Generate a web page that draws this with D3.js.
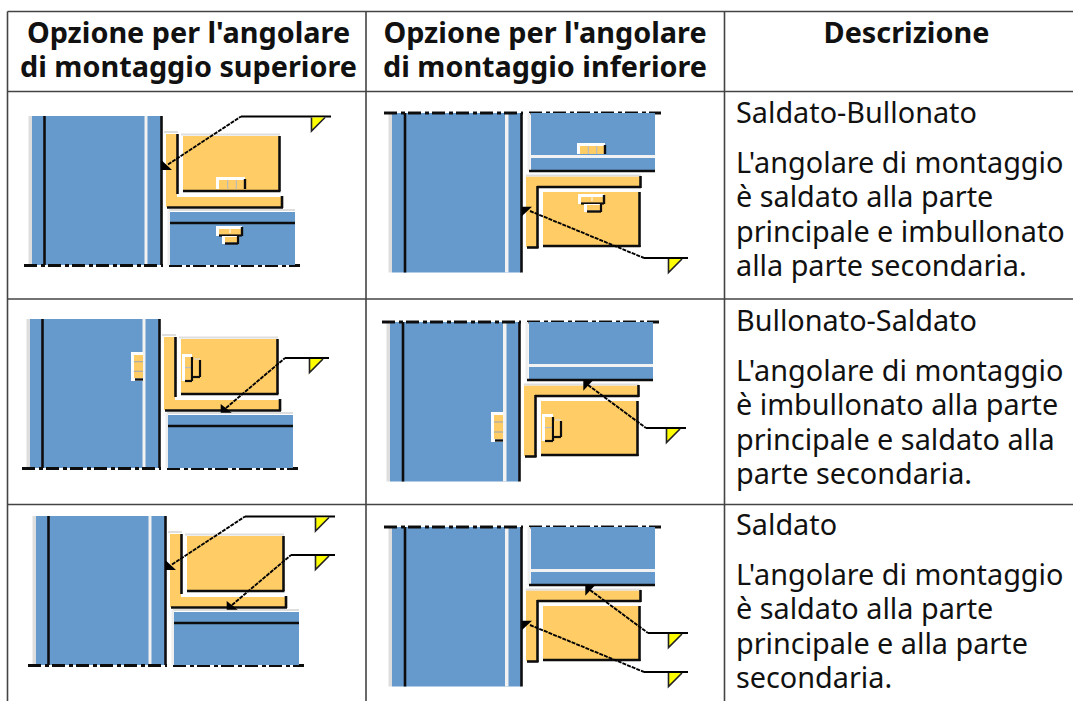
<!DOCTYPE html>
<html>
<head>
<meta charset="utf-8">
<script src="https://cdn.jsdelivr.net/npm/d3@7/dist/d3.min.js"></script>
<style>
  html, body { margin: 0; background: #fff; overflow: hidden; }
  text { font-family: "Noto Sans", sans-serif; fill: #111; }
</style>
</head>
<body>
<div id="app"></div>
<script>
const HEADERS = [
  ["Opzione per l'angolare", "di montaggio superiore"],
  ["Opzione per l'angolare", "di montaggio inferiore"],
  ["Descrizione"],
];
const TITLES = ["Saldato-Bullonato", "Bullonato-Saldato", "Saldato"];
const DESCRIPTIONS = [
  ["L'angolare di montaggio", "è saldato alla parte", "principale e imbullonato", "alla parte secondaria."],
  ["L'angolare di montaggio", "è imbullonato alla parte", "principale e saldato alla", "parte secondaria."],
  ["L'angolare di montaggio", "è saldato alla parte", "principale e alla parte", "secondaria."],
];
// which bolt groups and weld marks each row shows
const BEAM_BOLTS = [true, false, false];
const SIDE_BOLTS = [false, true, false];
const WELD_MAIN = [true, false, true];
const WELD_BEAM = [false, true, true];

const width = 1073;
const height = 701;
const BLUE = "#6699cc";
const ORANGE = "#ffcc66";
const YELLOW = "#ffff00";
const EDGE = "#dedede";
const INK = "#111";
const RULE = "#444";
const FONT_SIZE = "28.8px";

const COL_X = [7.5, 366, 724.5];
const ROW_Y = [11.5, 91.5, 299, 504.5];
const HEADER_CX = [188.5, 545, 906.5];
const HEADER_BASE = [43, 77];
const TEXT_X = 736;
const TITLE_BASE = [123, 331, 535];
const DESC_BASE = [173, 381, 585];
const LINE_H = 34.3;
const UPPER_OFFSET = [[0, 0], [-2, 203], [4, 400]];
const LOWER_OFFSET = [[0, 0], [-2, 209], [0, 414]];

const svg = d3.select("#app").append("svg").attr("width", width).attr("height", height);

const soft = svg.append("defs").append("filter").attr("id", "soft");
soft.append("feGaussianBlur").attr("stdDeviation", 0.4);

// table rules
const rules = svg.append("g").attr("stroke", RULE).attr("stroke-width", 1.6);
rules.selectAll("line.h").data(ROW_Y).join("line").attr("class", "h")
  .attr("x1", COL_X[0]).attr("x2", width).attr("y1", (d) => d).attr("y2", (d) => d);
rules.selectAll("line.v").data(COL_X).join("line").attr("class", "v")
  .attr("x1", (d) => d).attr("x2", (d) => d).attr("y1", ROW_Y[0]).attr("y2", height);

// header text
HEADERS.forEach((lines, i) => {
  svg.append("g").selectAll("text").data(lines).join("text")
    .attr("x", HEADER_CX[i])
    .attr("y", (d, j) => HEADER_BASE[j])
    .attr("text-anchor", "middle")
    .style("font-size", FONT_SIZE)
    .style("font-weight", "700")
    .text((d) => d);
});

// description column
TITLES.forEach((title, i) => {
  svg.append("text").attr("x", TEXT_X).attr("y", TITLE_BASE[i])
    .style("font-size", FONT_SIZE).text(title);
  svg.append("g").selectAll("text").data(DESCRIPTIONS[i]).join("text")
    .attr("x", TEXT_X)
    .attr("y", (d, j) => DESC_BASE[i] + j * LINE_H)
    .style("font-size", FONT_SIZE)
    .text((d) => d);
});

const pen = (offset) => {
  const g = svg.append("g").attr("filter", "url(#soft)");
  const x = d3.scaleLinear().domain([0, 1]).range([offset[0], offset[0] + 1]);
  const y = d3.scaleLinear().domain([0, 1]).range([offset[1], offset[1] + 1]);
  const path = d3.line().x((p) => x(p[0])).y((p) => y(p[1]));
  return {
    box(x0, y0, x1, y1, fill) {
      g.append("rect").attr("x", x(x0)).attr("y", y(y0))
        .attr("width", x1 - x0).attr("height", y1 - y0).attr("fill", fill);
    },
    poly(pts, fill) {
      g.append("path").attr("d", path(pts) + "Z").attr("fill", fill);
    },
    stroke(pts, w = 2.6, color = INK, dash = null) {
      g.append("path").attr("d", path(pts)).attr("fill", "none")
        .attr("stroke", color).attr("stroke-width", w).attr("stroke-dasharray", dash);
    },
  };
};

const CENTER_DASH = "13 4 4 3";
const LEADER_DASH = "4 1";

function leader(p, arrow, pts) {
  p.poly(arrow, "#000");
  p.stroke(pts.slice(0, 2), 1.9, "#000", LEADER_DASH);
  p.stroke(pts.slice(1), 2.2, "#000");
  const end = pts[2];
  const tx = end[0] - 19.5;
  const ty = end[1] + 1;
  p.poly([[tx, ty], [tx + 13.5, ty], [tx, ty + 13]], YELLOW);
  p.stroke([[tx, ty], [tx, ty + 13.5], [tx + 13.5, ty]], 1.6, "#222");
}

function teeBolt(p, x0, y0, x1, y1, x2, x3, y3) {
  // flat bolt head with nut under it
  p.box(x0, y0, x1, y1, "#fff");
  p.box(x0 + 3, y0 + 3, x1 - 1, y1 - 1, ORANGE);
  p.stroke([[(x0 + x1) / 2 + 1, y0 + 3], [(x0 + x1) / 2 + 1, y1 - 3]], 1, "#fff");
  p.stroke([[x1, y0 + 1], [x1, y1]], 2.4);
  p.stroke([[x0 + 3, y1 - 0.5], [x1, y1 - 0.5]], 2.2);
  p.box(x2 - 2, y1, x3, y3, "#fff");
  p.box(x2 + 1, y1 + 1, x3 - 1, y3 - 1.5, ORANGE);
  p.stroke([[x3, y1], [x3, y3]], 2.2);
  p.stroke([[x2 + 1, y3 - 0.5], [x3, y3 - 0.5]], 2.4);
}

function topBolt(p, x0, y0, x1, y1) {
  // three-part bolt seen from the side, sitting on the plate edge
  p.box(x0, y0, x1, y1, "#fff");
  p.box(x0 + 3, y0 + 3, x1, y1, ORANGE);
  [1 / 3, 2 / 3].forEach((t) => {
    const tx = x0 + 3 + (x1 - x0 - 3) * t;
    p.stroke([[tx, y0 + 3], [tx, y1]], 1.2, "#bbb");
  });
  p.stroke([[x1, y0 + 2], [x1, y1]], 2.4);
}

function sideBolt(p, x0, y0, x1, y1) {
  // upright bolt through the column flange
  p.box(x0, y0, x1, y1, "#fff");
  p.box(x0 + 3, y0 + 3, x1, y1 - 3, ORANGE);
  [1 / 3, 2 / 3].forEach((t) => {
    const ty = y0 + (y1 - y0) * t;
    p.stroke([[x0 + 3, ty], [x1, ty]], 1.2, "#aaa");
  });
  p.stroke([[x0 + 4, y1 - 1.5], [x1, y1 - 1.5]], 2.4);
}

function angleBolt(p, x0, y0, x1, y1, x2, y2, y3) {
  // bolt on the angle's outstanding leg
  p.box(x0, y0, x1, y1, "#fff");
  p.box(x0 + 3, y0 + 3, x1, y1, ORANGE);
  p.stroke([[x0 + 3, (y0 + y1) / 2], [x1, (y0 + y1) / 2]], 1.2, "#bbb");
  p.stroke([[x1, y0 + 3], [x1, y1]], 2.2);
  p.stroke([[x0 + 3, y1], [x1, y1]], 2.2);
  p.box(x1 + 1, y2, x2, y3, ORANGE);
  p.stroke([[x1 + 2, y2 - 1], [x2, y2 - 1]], 1.2, "#ddd");
  p.stroke([[x2, y2], [x2, y3]], 2.2);
  p.stroke([[x1, y3], [x2, y3]], 2.2);
}

function upper(i) {
  const p = pen(UPPER_OFFSET[i]);
  // main column
  p.box(28.5, 116, 32, 265, EDGE);
  p.box(32, 116, 161, 265, BLUE);
  p.box(144.5, 116, 147.5, 265, "#f2f2f2");
  p.stroke([[44.5, 116], [44.5, 265]]);
  p.stroke([[161.5, 116], [161.5, 265]]);
  p.stroke([[24, 265.5], [163, 265.5]], 2.8, INK, CENTER_DASH);
  p.stroke([[169, 265.5], [300, 265.5]], 2.8, INK, CENTER_DASH);
  // angle
  p.box(164, 131, 178, 133, EDGE);
  p.poly([[166, 134], [177, 134], [177, 197], [282, 197], [282, 207], [166, 207]], ORANGE);
  p.stroke([[177.5, 134], [177.5, 194]]);
  p.stroke([[167, 207.5], [283, 207.5]]);
  p.stroke([[282, 196], [282, 208]]);
  // secondary web
  p.box(181, 133.5, 280, 135.5, EDGE);
  p.box(183, 136, 279, 190, ORANGE);
  p.stroke([[279.5, 136], [279.5, 191]]);
  p.stroke([[183, 191], [280.5, 191]]);
  // beam
  p.box(169, 209, 295, 211, EDGE);
  p.box(167.5, 210, 170, 265, "#eee");
  p.box(170, 212, 295, 265, BLUE);
  p.stroke([[170, 223], [295, 223]]);
  if (BEAM_BOLTS[i]) {
    topBolt(p, 216, 177, 245, 189);
    teeBolt(p, 216, 226, 242, 236, 224, 238, 244);
  }
  if (SIDE_BOLTS[i]) {
    sideBolt(p, 133, 149, 145, 178);
    angleBolt(p, 184, 151, 194, 178, 202, 157, 174);
  }
  if (WELD_MAIN[i]) {
    leader(p, [[161.3, 160], [172, 170], [161.3, 170]], [[168, 164.5], [241, 116.5], [331, 116.5]]);
  }
  if (WELD_BEAM[i]) {
    leader(p, [[222.7, 201], [233.7, 209.7], [222.7, 209.7]], [[228, 205], [287, 155], [331, 155]]);
  }
}

function lower(i) {
  const p = pen(LOWER_OFFSET[i]);
  // main column
  p.box(388.5, 113, 392, 272.5, EDGE);
  p.box(392, 113, 521, 272.5, BLUE);
  p.box(505, 113, 508.5, 272.5, "#f2f2f2");
  p.stroke([[405, 113], [405, 272.5]]);
  p.stroke([[521.5, 113], [521.5, 272.5]]);
  p.stroke([[384, 113], [523, 113]], 2.8, INK, CENTER_DASH);
  p.stroke([[529, 113], [661, 113]], 2.8, INK, CENTER_DASH);
  // beam
  p.box(527.5, 113, 530.5, 171, "#eee");
  p.box(531, 113, 655, 170, BLUE);
  p.box(531, 155, 655, 158, "#f2f2f2");
  p.stroke([[529, 171], [655, 171]]);
  // angle
  p.poly([[526, 176.5], [641, 176.5], [641, 187], [537, 187], [537, 247], [526, 247]], ORANGE);
  p.box(526, 174.5, 641, 176.5, EDGE);
  p.stroke([[537, 187], [641, 187]]);
  p.stroke([[640.5, 176], [640.5, 188]]);
  p.stroke([[537.5, 186], [537.5, 248]]);
  p.stroke([[527, 247.5], [538.5, 247.5]]);
  // secondary web
  p.box(543, 192, 639, 245.5, ORANGE);
  p.stroke([[639.5, 192], [639.5, 247]]);
  p.stroke([[543, 246], [640.5, 246]]);
  if (BEAM_BOLTS[i]) {
    topBolt(p, 577, 143, 605, 154);
    teeBolt(p, 578, 194, 604, 204, 586, 601, 212);
  }
  if (SIDE_BOLTS[i]) {
    sideBolt(p, 493, 203, 505, 233);
    angleBolt(p, 544, 205, 555, 232, 563, 212, 228);
  }
  if (WELD_BEAM[i]) {
    leader(p, [[585.3, 171], [595.3, 171], [585.3, 181.7]], [[590, 176], [648, 219], [688, 219]]);
  }
  if (WELD_MAIN[i]) {
    leader(p, [[522, 206.7], [532, 206.7], [522, 216]], [[530, 211], [644, 258], [688, 258]]);
  }
}

TITLES.forEach((d, i) => {
  upper(i);
  lower(i);
});
</script>
</body>
</html>
